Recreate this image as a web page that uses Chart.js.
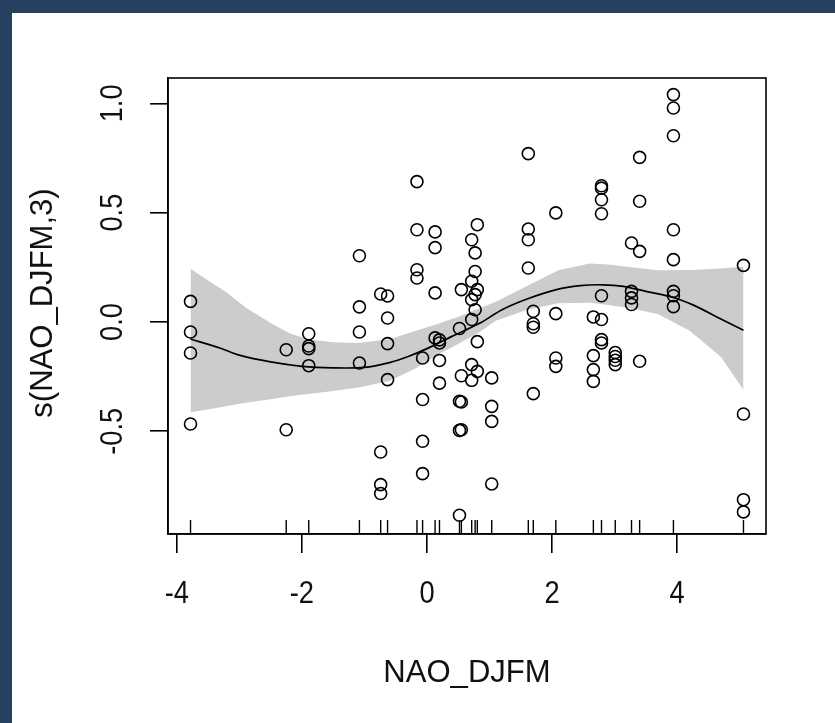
<!DOCTYPE html>
<html>
<head>
<meta charset="utf-8">
<script src="https://cdn.jsdelivr.net/npm/chart.js@4.4.1/dist/chart.umd.min.js"></script>
<style>
  html, body { margin: 0; padding: 0; background: #264060; }
  body { width: 835px; height: 723px; overflow: hidden; position: relative; }
  #marco { position: absolute; left: 12px; top: 13px; width: 823px; height: 710px; background: #fff; }
</style>
</head>
<body>
<div id="marco"><canvas id="grafico" width="823" height="710"></canvas></div>
<script>
// partial residuals, one x (NAO_DJFM) per point
const naoX = [
  -3.78, -3.78, -3.78, -3.78,
  -2.25, -2.25,
  -1.89, -1.89, -1.89, -1.89,
  -1.08, -1.08, -1.08, -1.08,
  -0.74, -0.74, -0.74, -0.74,
  -0.63, -0.63, -0.63, -0.63,
  -0.16, -0.16, -0.16, -0.16,
  -0.07, -0.07, -0.07, -0.07,
  0.13, 0.13, 0.13, 0.13,
  0.2, 0.2, 0.2, 0.2,
  0.52, 0.52, 0.52, 0.52,
  0.55, 0.55, 0.55, 0.55,
  0.715, 0.715, 0.715, 0.715, 0.715, 0.715,
  0.77, 0.77, 0.77, 0.77,
  0.805, 0.805, 0.805, 0.805,
  1.035, 1.035, 1.035, 1.035,
  1.62, 1.62, 1.62, 1.62,
  1.7, 1.7, 1.7, 1.7,
  2.06, 2.06, 2.06, 2.06,
  2.66, 2.66, 2.66, 2.66,
  2.79, 2.79, 2.79, 2.79, 2.79, 2.79, 2.79, 2.79,
  3.01, 3.01, 3.01, 3.01,
  3.27, 3.27, 3.27, 3.27,
  3.4, 3.4, 3.4, 3.4,
  3.94, 3.94, 3.94, 3.94, 3.94, 3.94, 3.94, 3.94,
  5.06, 5.06, 5.06, 5.06,
];
const residuals = [
  0.094, -0.046, -0.142, -0.467,
  -0.127, -0.493,
  -0.054, -0.11, -0.122, -0.2,
  0.303, 0.069, -0.046, -0.188,
  0.128, -0.595, -0.744, -0.785,
  0.119, 0.018, -0.099, -0.264,
  0.642, 0.422, 0.239, 0.201,
  -0.165, -0.355, -0.546, -0.694,
  0.412, 0.34, 0.133, -0.073,
  -0.082, -0.096, -0.176, -0.28,
  -0.03, -0.363, -0.496, -0.884,
  0.148, -0.246, -0.366, -0.493,
  0.376, 0.186, 0.102, 0.011, -0.195, -0.267,
  0.316, 0.231, 0.125, 0.056,
  0.445, 0.148, -0.09, -0.226,
  -0.256, -0.386, -0.455, -0.741,
  0.77, 0.425, 0.376, 0.247,
  0.049, -0.008, -0.024, -0.328,
  0.499, 0.038, -0.165, -0.203,
  0.023, -0.154, -0.218, -0.272,
  0.623, 0.612, 0.559, 0.495, 0.12, 0.011, -0.081, -0.096,
  -0.14, -0.158, -0.175, -0.195,
  0.361, 0.14, 0.11, 0.08,
  0.753, 0.552, 0.323, -0.18,
  1.04, 0.979, 0.852, 0.422, 0.285, 0.14, 0.12, 0.07,
  0.259, -0.421, -0.813, -0.869,
];

// fitted smooth s(NAO_DJFM,3)
const fitX = [-3.78, -3.3, -3.0, -2.5, -2.0, -1.5, -1.0, -0.6, -0.3, 0.0, 0.4, 0.85, 1.2, 1.6, 2.07, 2.45, 2.8, 3.14, 3.5, 3.94, 4.26, 4.69, 5.06];
const fitY = [-0.078, -0.12, -0.152, -0.183, -0.203, -0.21, -0.208, -0.186, -0.158, -0.122, -0.066, -0.005, 0.056, 0.105, 0.148, 0.166, 0.17, 0.163, 0.14, 0.112, 0.077, 0.015, -0.038];

// confidence band
const bandX = [-3.78, -3.5, -3.2, -2.9, -2.5, -2.2, -1.9, -1.5, -1.1, -0.6, -0.2, 0.2, 0.55, 0.85, 1.1, 1.6, 2.1, 2.6, 2.9, 3.3, 3.7, 4.2, 4.7, 5.06];
const bandUpper = [0.243, 0.19, 0.135, 0.066, -0.005, -0.052, -0.079, -0.093, -0.096, -0.079, -0.042, -0.006, 0.028, 0.064, 0.092, 0.164, 0.237, 0.267, 0.263, 0.249, 0.237, 0.238, 0.245, 0.254];
const bandLower = [-0.413, -0.4, -0.385, -0.37, -0.354, -0.34, -0.33, -0.316, -0.3, -0.27, -0.215, -0.145, -0.093, -0.045, 0.005, 0.056, 0.086, 0.088, 0.078, 0.06, 0.035, -0.04, -0.16, -0.31];

const xTicks = [-4, -2, 0, 2, 4];
const xLabels = ["-4", "-2", "0", "2", "4"];
const yTicks = [-0.5, 0, 0.5, 1];
const yLabels = ["-0.5", "0.0", "0.5", "1.0"];

const rug = [...new Set(naoX)];
const pairs = (xs, ys) => xs.map((v, i) => ({ x: v, y: ys[i] }));

// text a bit narrower than the font, like the R device
let texto = (ctx, txt, x, y, girar, ancho) => {
  ctx.save();
  ctx.translate(x, y);
  if (girar) ctx.rotate(-Math.PI / 2);
  ctx.scale(ancho, 1);
  ctx.fillText(txt, 0, 0);
  ctx.restore();
};

// box, rug and texts in the R style
const estiloR = {
  id: "estiloR",
  afterDraw: (chart) => {
    const { ctx, chartArea: a, scales: { x, y } } = chart;
    ctx.save();
    ctx.strokeStyle = "#000";
    ctx.lineWidth = 1.6;
    ctx.strokeRect(a.left, a.top, a.right - a.left, a.bottom - a.top);

    ctx.lineWidth = 1.4;
    rug.forEach((v) => {
      let px = x.getPixelForValue(v);
      ctx.beginPath();
      ctx.moveTo(px, a.bottom);
      ctx.lineTo(px, a.bottom - 14);
      ctx.stroke();
    });

    ctx.fillStyle = "#111";
    ctx.font = "31px 'Liberation Sans', Arial, sans-serif";
    ctx.textAlign = "center";
    ctx.textBaseline = "alphabetic";
    xTicks.forEach((v, i) => texto(ctx, xLabels[i], x.getPixelForValue(v), a.bottom + 69, false, 0.88));
    yTicks.forEach((v, i) => texto(ctx, yLabels[i], a.left - 46, y.getPixelForValue(v), true, 0.88));

    ctx.font = "32px 'Liberation Sans', Arial, sans-serif";
    texto(ctx, "NAO_DJFM", (a.left + a.right) / 2, a.bottom + 148, false, 0.97);
    texto(ctx, "s(NAO_DJFM,3)", a.left - 116, (a.top + a.bottom) / 2 - 3, true, 0.97);
    ctx.restore();
  },
};

const ejeGrid = { drawOnChartArea: false, drawTicks: true, color: "#000", lineWidth: 1.6 };

new Chart(document.getElementById("grafico"), {
  type: "scatter",
  data: {
    datasets: [
      {
        label: "residuals",
        data: pairs(naoX, residuals),
        pointRadius: 6,
        pointBorderWidth: 1.6,
        pointBorderColor: "#000",
        pointBackgroundColor: "rgba(0,0,0,0)",
        order: 0,
      },
      {
        label: "fit",
        data: pairs(fitX, fitY),
        showLine: true,
        borderColor: "#000",
        borderWidth: 1.7,
        pointRadius: 0,
        tension: 0.3,
        order: 1,
      },
      {
        label: "upper",
        data: pairs(bandX, bandUpper),
        showLine: true,
        borderColor: "rgba(0,0,0,0)",
        borderWidth: 1,
        pointRadius: 0,
        fill: "+1",
        backgroundColor: "#cccccc",
        order: 2,
      },
      {
        label: "lower",
        data: pairs(bandX, bandLower),
        showLine: true,
        borderColor: "rgba(0,0,0,0)",
        borderWidth: 1,
        pointRadius: 0,
        order: 3,
      },
    ],
  },
  options: {
    responsive: false,
    animation: false,
    events: [],
    layout: { padding: { top: 65, right: 69, left: 0, bottom: 0 } },
    plugins: { legend: { display: false }, tooltip: { enabled: false } },
    scales: {
      x: {
        type: "linear",
        min: -4.14,
        max: 5.42,
        afterBuildTicks: (s) => { s.ticks = xTicks.map((v) => ({ value: v })); },
        afterFit: (s) => { s.height = 189; },
        ticks: { display: false },
        grid: { ...ejeGrid, tickLength: 19 },
        border: { display: true, color: "#000", width: 1.6 },
      },
      y: {
        type: "linear",
        min: -0.97,
        max: 1.116,
        afterBuildTicks: (s) => { s.ticks = yTicks.map((v) => ({ value: v })); },
        afterFit: (s) => { s.width = 156; },
        ticks: { display: false },
        grid: { ...ejeGrid, tickLength: 18 },
        border: { display: true, color: "#000", width: 1.6 },
      },
    },
  },
  plugins: [estiloR],
});
</script>
</body>
</html>
